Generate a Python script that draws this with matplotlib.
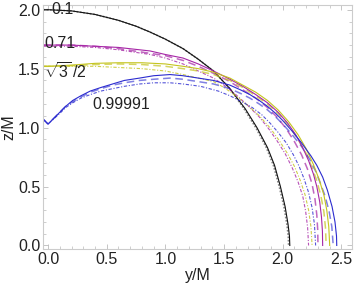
import numpy as np
import matplotlib
matplotlib.use("Agg")
import matplotlib.pyplot as plt
from matplotlib.ticker import MultipleLocator, FormatStrFormatter

plt.rcParams['font.family'] = ['Liberation Sans', 'DejaVu Sans']
plt.rcParams['mathtext.fontset'] = 'custom'
plt.rcParams['mathtext.rm'] = 'Liberation Sans'

# curves: (y/M, z/M)
black_y = [-0.04, 0.0, 0.2, 0.4, 0.6, 0.75, 0.87, 1.0, 1.15, 1.28, 1.41, 1.55, 1.68, 1.78, 1.87,
           1.93, 1.98, 2.02, 2.045, 2.057, 2.06]
black_z = [2.0, 2.0, 1.99, 1.96, 1.91, 1.86, 1.81, 1.75, 1.67, 1.58, 1.48, 1.33, 1.16, 1.00, 0.83,
           0.68, 0.50, 0.33, 0.18, 0.08, 0.0]
blackdot_y = [-0.04, 0.0, 0.2, 0.4, 0.6, 0.75, 0.87, 1.0, 1.15, 1.28, 1.41, 1.55, 1.67, 1.77, 1.86,
              1.92, 1.97, 2.01, 2.035, 2.047, 2.05]
blackdot_z = black_z

mag_y = [-0.04, 0.0, 0.2, 0.4, 0.6, 0.87, 1.0, 1.15, 1.28, 1.41, 1.55, 1.66, 1.77, 1.87,
         1.96, 2.04, 2.11, 2.17, 2.22, 2.26, 2.29, 2.315, 2.33, 2.338, 2.34]
mag_z = [1.70, 1.70, 1.70, 1.69, 1.68, 1.65, 1.62, 1.59, 1.54, 1.48, 1.41, 1.35, 1.28, 1.21,
         1.13, 1.04, 0.94, 0.83, 0.72, 0.61, 0.50, 0.37, 0.24, 0.12, 0.0]
magdash_y = [-0.04, 0.0, 0.2, 0.4, 0.6, 0.87, 1.0, 1.15, 1.28, 1.41, 1.55, 1.66, 1.77, 1.87,
             1.95, 2.03, 2.1, 2.16, 2.21, 2.25, 2.275, 2.29, 2.298, 2.30]
magdash_z = [1.70, 1.70, 1.70, 1.69, 1.67, 1.63, 1.61, 1.57, 1.52, 1.46, 1.39, 1.32, 1.25, 1.17,
             1.09, 0.99, 0.88, 0.77, 0.65, 0.52, 0.39, 0.26, 0.13, 0.0]
magdot_y = [-0.04, 0.0, 0.2, 0.4, 0.6, 0.87, 1.0, 1.15, 1.28, 1.41, 1.5, 1.6, 1.7, 1.8,
            1.88, 1.95, 2.02, 2.08, 2.13, 2.17, 2.195, 2.212, 2.22]
magdot_z = [1.69, 1.69, 1.69, 1.68, 1.66, 1.62, 1.59, 1.54, 1.48, 1.42, 1.36, 1.28, 1.19, 1.09,
            0.99, 0.89, 0.78, 0.66, 0.54, 0.42, 0.29, 0.15, 0.0]

yel_y = [-0.04, 0.0, 0.2, 0.4, 0.6, 0.8, 1.0, 1.15, 1.28, 1.41, 1.55, 1.66, 1.77, 1.87,
         1.96, 2.05, 2.13, 2.2, 2.26, 2.31, 2.35, 2.375, 2.392, 2.40]
yel_z = [1.52, 1.52, 1.53, 1.545, 1.55, 1.55, 1.54, 1.52, 1.50, 1.47, 1.42, 1.36, 1.30, 1.23,
         1.15, 1.05, 0.94, 0.82, 0.69, 0.56, 0.43, 0.30, 0.16, 0.0]
yeldash_y = [-0.04, 0.0, 0.2, 0.4, 0.6, 0.8, 1.0, 1.15, 1.28, 1.41, 1.55, 1.66, 1.77, 1.87,
             1.96, 2.05, 2.13, 2.2, 2.25, 2.29, 2.325, 2.35, 2.364, 2.37]
yeldash_z = [1.52, 1.52, 1.525, 1.535, 1.54, 1.535, 1.52, 1.50, 1.48, 1.45, 1.40, 1.34, 1.27, 1.20,
             1.12, 1.02, 0.90, 0.78, 0.66, 0.55, 0.42, 0.29, 0.15, 0.0]
yeldot_y = [-0.04, 0.0, 0.2, 0.4, 0.6, 0.8, 1.0, 1.15, 1.28, 1.41, 1.5, 1.6, 1.7, 1.8,
            1.89, 1.97, 2.04, 2.1, 2.15, 2.19, 2.22, 2.24, 2.25]
yeldot_z = [1.52, 1.52, 1.52, 1.52, 1.51, 1.50, 1.48, 1.45, 1.42, 1.39, 1.34, 1.27, 1.19, 1.10,
            1.00, 0.89, 0.78, 0.67, 0.55, 0.43, 0.30, 0.16, 0.0]

blue_y = [-0.04, 0.0, 0.05, 0.1, 0.15, 0.21, 0.28, 0.36, 0.45, 0.55, 0.65, 0.78, 0.9, 1.04,
          1.15, 1.28, 1.41, 1.55, 1.64, 1.72, 1.80, 1.87, 1.94, 2.0, 2.08, 2.16, 2.24, 2.29,
          2.34, 2.38, 2.42, 2.445, 2.458, 2.46]
blue_z = [1.07, 1.03, 1.08, 1.13, 1.18, 1.23, 1.27, 1.31, 1.34, 1.37, 1.40, 1.42, 1.44, 1.45,
          1.44, 1.42, 1.40, 1.36, 1.32, 1.28, 1.23, 1.18, 1.12, 1.06, 0.97, 0.87, 0.76, 0.68,
          0.58, 0.47, 0.33, 0.20, 0.08, 0.0]
bluedash_y = [-0.04, 0.0, 0.05, 0.1, 0.15, 0.21, 0.28, 0.36, 0.45, 0.55, 0.65, 0.78, 0.9, 1.04,
              1.15, 1.28, 1.41, 1.55, 1.64, 1.72, 1.80, 1.87, 1.94, 2.0, 2.08, 2.16, 2.23, 2.28,
              2.32, 2.36, 2.395, 2.418, 2.43]
bluedash_z = [1.07, 1.03, 1.08, 1.13, 1.18, 1.22, 1.26, 1.30, 1.33, 1.36, 1.38, 1.40, 1.41, 1.42,
              1.41, 1.39, 1.37, 1.33, 1.29, 1.25, 1.20, 1.15, 1.09, 1.03, 0.94, 0.84, 0.73, 0.63,
              0.53, 0.42, 0.29, 0.16, 0.0]
bluedot_y = [-0.04, 0.0, 0.05, 0.1, 0.15, 0.21, 0.28, 0.36, 0.45, 0.55, 0.65, 0.78, 0.9, 1.04,
             1.15, 1.3, 1.45, 1.55, 1.65, 1.74, 1.82, 1.89, 1.96, 2.03, 2.09, 2.14, 2.18, 2.22,
             2.25, 2.27, 2.28]
bluedot_z = [1.07, 1.03, 1.075, 1.12, 1.17, 1.21, 1.25, 1.28, 1.31, 1.33, 1.35, 1.37, 1.38, 1.38,
             1.37, 1.35, 1.31, 1.27, 1.22, 1.17, 1.11, 1.04, 0.96, 0.87, 0.77, 0.67, 0.57, 0.45,
             0.32, 0.18, 0.0]

labels = ['0.1', '0.71', r'$\sqrt{3}\,/2$', '0.99991']
label_pos = [(0.03, 2.0), (-0.03, 1.71), (-0.035, 1.47), (0.38, 1.20)]

black = '#111111'
magenta = '#a626a6'
yellow = '#c4c41e'
blue = '#2b2bcf'

fig = plt.figure(figsize=(3.54, 2.89), dpi=100)
ax = fig.add_axes([43 / 354, 40 / 289, 309 / 354, 244 / 289])

dashdot = (0, (3, 1.5, 1, 1.5))
ax.plot(blackdot_y, blackdot_z, color='#888888', lw=1.2, ls=(0, (1, 1)))
ax.plot(black_y, black_z, color=black, lw=0.8)

ax.plot(magdot_y, magdot_z, color=magenta, lw=0.8, ls=dashdot, alpha=0.8)
ax.plot(yeldot_y, yeldot_z, color=yellow, lw=0.8, ls=dashdot, alpha=0.8)
ax.plot(bluedot_y, bluedot_z, color=blue, lw=0.8, ls=dashdot, alpha=0.8)

ax.plot(magdash_y, magdash_z, color=magenta, lw=1.1, ls=(0, (5, 3)), alpha=0.7)
ax.plot(yeldash_y, yeldash_z, color=yellow, lw=1.1, ls=(0, (5, 3)), alpha=0.7)
ax.plot(bluedash_y, bluedash_z, color=blue, lw=1.1, ls=(0, (5, 3)), alpha=0.6)

ax.plot(mag_y, mag_z, color=magenta, lw=0.8)
ax.plot(yel_y, yel_z, color=yellow, lw=0.8)
ax.plot(blue_y, blue_z, color=blue, lw=0.8)

for t, (px, pz) in zip(labels, label_pos):
    ax.text(px, pz, t, fontsize=11.5, ha='left', va='center', color='#222222')

ax.set_xlim(-0.043, 2.59)
ax.set_ylim(-0.03, 2.04)
ax.xaxis.set_major_locator(MultipleLocator(0.5))
ax.xaxis.set_minor_locator(MultipleLocator(0.1))
ax.yaxis.set_major_locator(MultipleLocator(0.5))
ax.yaxis.set_minor_locator(MultipleLocator(0.1))
ax.xaxis.set_major_formatter(FormatStrFormatter('%.1f'))
ax.yaxis.set_major_formatter(FormatStrFormatter('%.1f'))
ax.tick_params(which='both', direction='in', top=True, right=True, color='#bbbbbb',
               labelsize=11.5, labelcolor='#222222', pad=2)
ax.tick_params(which='major', length=3.5, width=0.6)
ax.tick_params(which='minor', length=2, width=0.5)
for s in ax.spines.values():
    s.set_color('#cccccc')
    s.set_linewidth(0.8)

ax.set_xlabel('y/M', fontsize=11.5, color='#222222', labelpad=1)
ax.set_ylabel('z/M', fontsize=11.5, color='#222222', labelpad=1)

fig.savefig('out.png', dpi=100)
